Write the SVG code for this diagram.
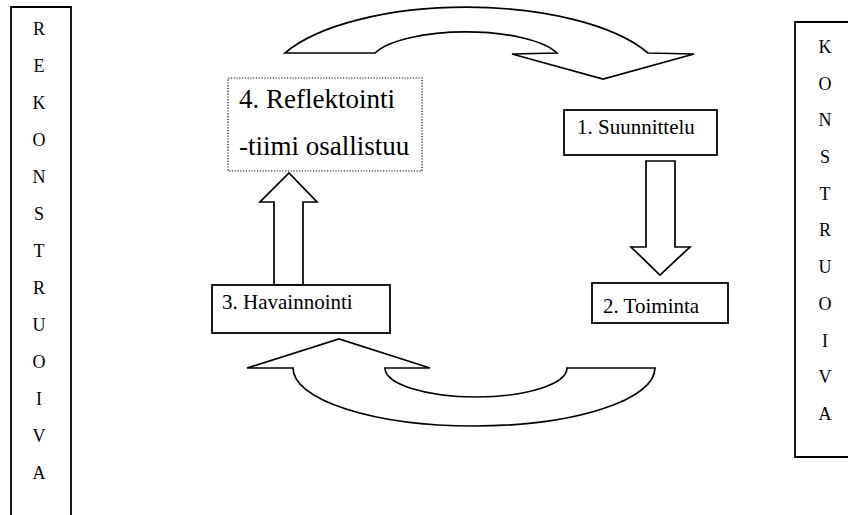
<svg xmlns="http://www.w3.org/2000/svg" width="848" height="515" viewBox="0 0 848 515">
<style>
  .box { fill: #fff; stroke: #000; stroke-width: 1.8; }
  .dot { fill: #fff; stroke: #000; stroke-width: 1.2; stroke-dasharray: 1.2 1.6; }
  .arr { fill: #fff; stroke: #000; stroke-width: 1.7; stroke-linejoin: miter; }
  text { font-family: 'Liberation Serif', 'DejaVu Serif', serif; fill: #000; }
  .lbl { font-size: 21px; }
  .big { font-size: 27px; }
  .col { font-size: 18px; text-anchor: middle; }
</style>
<rect width="848" height="515" fill="#fff"/>
<g id="rekonstruoiva">
  <path class="box" d="M11,520 V7 H71 V520"/>
  <g class="col">
    <text x="39" y="35">R</text>
    <text x="39" y="72">E</text>
    <text x="39" y="109">K</text>
    <text x="39" y="146">O</text>
    <text x="39" y="183">N</text>
    <text x="39" y="220">S</text>
    <text x="39" y="257">T</text>
    <text x="39" y="294">R</text>
    <text x="39" y="331">U</text>
    <text x="39" y="368">O</text>
    <text x="39" y="405">I</text>
    <text x="39" y="442">V</text>
    <text x="39" y="479">A</text>
  </g>
</g>
<g id="konstruoiva">
  <path class="box" d="M852,22 H795 V457 H852"/>
  <g class="col">
    <text x="825" y="53">K</text>
    <text x="825" y="90">O</text>
    <text x="825" y="126">N</text>
    <text x="825" y="163">S</text>
    <text x="825" y="200">T</text>
    <text x="825" y="236">R</text>
    <text x="825" y="273">U</text>
    <text x="825" y="310">O</text>
    <text x="825" y="347">I</text>
    <text x="825" y="383">V</text>
    <text x="825" y="420">A</text>
  </g>
</g>
<g id="connectors">
  <path class="arr" d="M285,53 A200 79 0 0 1 648,53 L694,54 L603,79 L512,54 L557,53 A96 31 0 0 0 375,53 Z"/>
  <path class="arr" d="M247,368 L339,339 L430,368 L385,368 A91 29 0 0 0 567,368 L655,368 A181 58 0 0 1 293,368 Z"/>
  <path class="arr" d="M646,161 H675 V247 H690 L660,275 L631,247 H646 Z"/>
  <path class="arr" d="M274,285 V202 H260 L289,173 L317,202 H303 V285 Z"/>
</g>
<g id="node1">
  <rect class="box" x="564" y="110" width="153" height="45"/>
  <text class="lbl" x="577" y="134">1. Suunnittelu</text>
</g>
<g id="node2">
  <rect class="box" x="592" y="283" width="136" height="40"/>
  <text class="lbl" x="603" y="313">2. Toiminta</text>
</g>
<g id="node3">
  <rect class="box" x="212" y="285" width="178" height="48"/>
  <text class="lbl" x="222" y="309">3. Havainnointi</text>
</g>
<g id="node4">
  <rect class="dot" x="228" y="78" width="194" height="93"/>
  <text class="big" x="239" y="108">4. Reflektointi</text>
  <text class="big" x="239" y="155">-tiimi osallistuu</text>
</g>
</svg>
